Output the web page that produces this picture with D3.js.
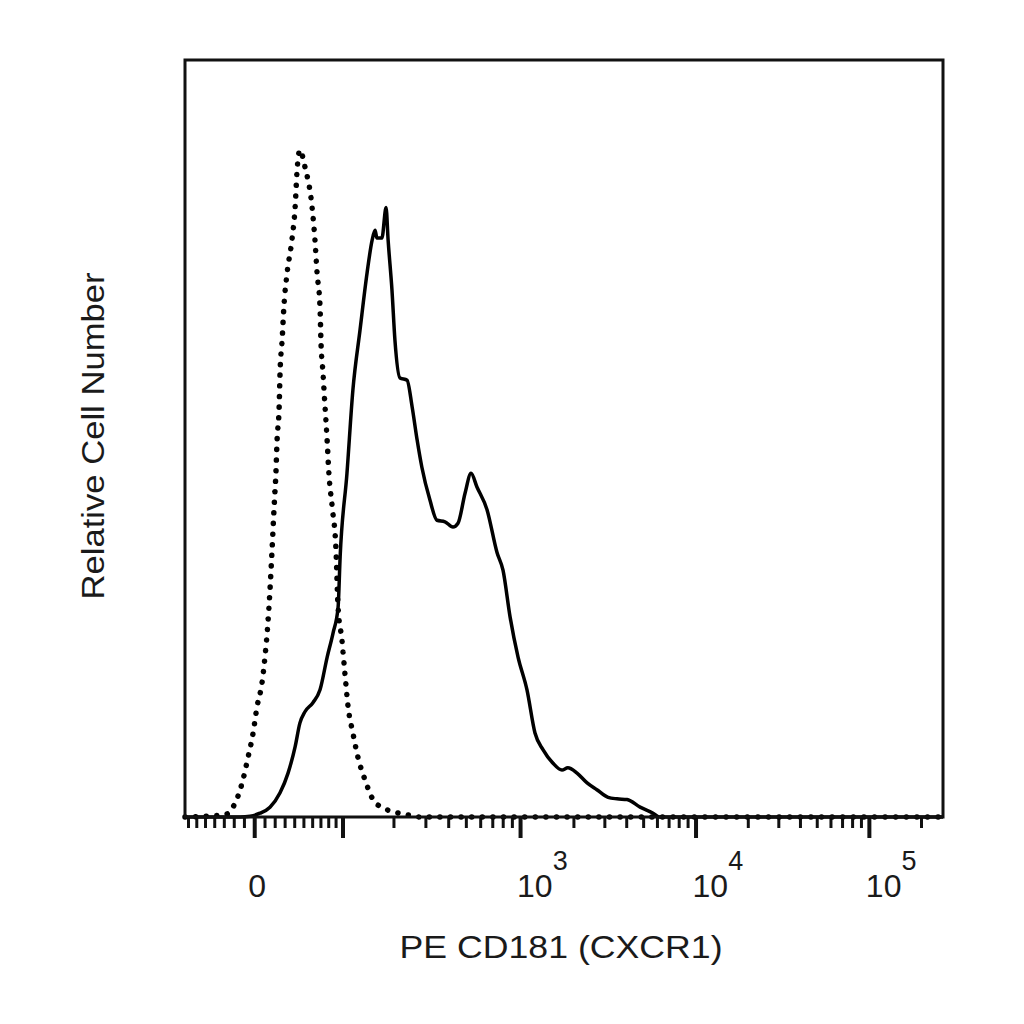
<!DOCTYPE html>
<html>
<head>
<meta charset="utf-8">
<script src="https://cdn.jsdelivr.net/npm/d3@7"></script>
<style>
  body { margin: 0; background: #fff; }
  svg { display: block; }
</style>
</head>
<body>
<div id="chart"></div>
<script>
// Histogram overlay: isotype (dotted) vs PE CD181 (solid), logicle x axis

// x in display channels (0-256 across the plot), y in % of full scale
const isoChannel = [0, 13.5, 16.2, 19.3, 21.3, 23.0, 24.3, 26.0, 27.0, 28.0, 28.7, 29.4, 30.1, 30.7, 31.1, 31.8, 32.1, 32.8, 33.4, 34.5, 36.1, 37.2, 37.8, 38.8, 40.5, 42.9, 43.9, 44.6, 45.6, 45.9, 46.6, 47.3, 48.0, 48.6, 49.7, 51.0, 51.7, 53.0, 54.0, 55.1, 56.7, 58.4, 60.8, 63.5, 66.9, 70.3, 75.0, 79.4, 256];
const isoCount = [0, 0.3, 1.3, 4.5, 7.9, 11.1, 14.5, 17.7, 21.1, 25.6, 30.0, 35.3, 41.0, 45.4, 49.8, 54.2, 58.7, 63.0, 67.4, 71.9, 76.2, 80.6, 85.1, 88.1, 85.9, 80.6, 76.2, 71.9, 67.4, 63.0, 58.7, 54.2, 49.8, 45.4, 41.0, 35.3, 27.7, 23.4, 19.0, 14.5, 11.1, 7.9, 4.9, 2.3, 1.2, 0.7, 0.3, 0, 0];

const cxcrChannel = [0, 18.6, 22.0, 25.3, 28.7, 32.1, 34.8, 37.2, 38.8, 40.5, 43.2, 45.6, 48.0, 50.0, 51.7, 52.4, 54.7, 56.7, 59.1, 61.5, 63.2, 64.2, 64.8, 66.5, 67.9, 68.6, 69.9, 70.9, 72.6, 75.0, 76.7, 78.4, 80.0, 82.7, 85.1, 87.8, 90.5, 92.2, 94.6, 96.6, 98.6, 102.0, 105.4, 107.4, 109.8, 112.5, 115.5, 118.2, 120.9, 124.3, 127.3, 129.3, 132.4, 135.8, 139.1, 142.9, 145.9, 149.3, 153.7, 158.1, 160.4, 256];
const cxcrCount = [0, 0, 0.1, 0.5, 1.3, 3.2, 5.8, 9.3, 12.4, 13.9, 15.1, 16.8, 21.1, 24.3, 27.7, 34.4, 45.4, 56.4, 64.3, 71.9, 76.2, 77.5, 76.5, 76.5, 80.5, 76.2, 69.6, 63.0, 58.0, 57.7, 54.2, 49.8, 46.2, 41.9, 39.2, 39.0, 38.3, 38.8, 42.8, 45.4, 43.6, 40.6, 34.9, 32.6, 26.4, 21.1, 16.8, 11.1, 8.9, 7.1, 6.2, 6.5, 5.8, 4.5, 3.6, 2.6, 2.4, 2.3, 1.3, 0.5, 0, 0];

// axis ticks in fluorescence units
const majorTicks = [0, 100, 1000, 10000, 100000];
const minorTicks = [-70, -60, -50, -40, -30, -20, -10, 10, 20, 30, 40, 50, 60, 70, 80, 90,
  200, 300, 400, 500, 600, 700, 800, 900,
  2000, 3000, 4000, 5000, 6000, 7000, 8000, 9000,
  20000, 30000, 40000, 50000, 60000, 70000, 80000, 90000, 200000];
const labelValues = [0, 1000, 10000, 100000];
const labelExps = ['', '3', '4', '5'];

const xTitle = 'PE CD181 (CXCR1)';
const yTitle = 'Relative Cell Number';

// logicle transform (Parks et al.), with A extra negative decades
const LN10 = Math.log(10);
const logT = 268000, logW = 0.25, logM = 4.23, logA = 0.15;
const lw = logW * LN10, lm = logM * LN10, la = logA * LN10;
const lp = (function() {
    let lo = 1, hi = 100;
    for (let i = 0; i < 80; i++) {
        const mid = (lo + hi) / 2;
        if (2 * mid * Math.log(mid) / (mid + 1) < lw) lo = mid; else hi = mid;
    }
    return (lo + hi) / 2;
})();

function logicleS(y) {
    if (y < lw) return -logicleS(2 * lw - y);
    const u = y - lw;
    return logT * Math.exp(-(lm - lw)) * (Math.exp(u) - lp * lp * Math.exp(-u / lp) + lp * lp - 1);
}

// value -> channel (0-256)
function toChannel(v) {
    let lo = -la, hi = lm;
    for (let i = 0; i < 80; i++) {
        const mid = (lo + hi) / 2;
        if (logicleS(mid) < v) lo = mid; else hi = mid;
    }
    return ((lo + hi) / 2 + la) / (lm + la) * 256;
}

const width = 1024, height = 1024;
const margin = { top: 60, right: 81, bottom: 207, left: 185 };

const svg = d3.select('#chart')
    .append('svg')
    .attr('width', width)
    .attr('height', height);

const xScale = d3.scaleLinear()
    .domain([0, 256])
    .range([margin.left, width - margin.right]);

const yScale = d3.scaleLinear()
    .domain([0, 100])
    .range([height - margin.bottom, margin.top]);

const baseY = height - margin.bottom;

// minor ticks
svg.append('g')
    .attr('transform', `translate(0,${baseY})`)
    .call(d3.axisBottom(xScale).tickValues(minorTicks.map(toChannel)).tickSize(11).tickFormat(''))
    .call(g => g.select('.domain').remove())
    .call(g => g.selectAll('line').attr('stroke', '#111').attr('stroke-width', 3));

// major ticks
svg.append('g')
    .attr('transform', `translate(0,${baseY})`)
    .call(d3.axisBottom(xScale).tickValues(majorTicks.map(toChannel)).tickSize(21).tickFormat(''))
    .call(g => g.select('.domain').remove())
    .call(g => g.selectAll('line').attr('stroke', '#111').attr('stroke-width', 4));

// tick labels
const labels = svg.append('g')
    .style('font-family', '"Liberation Sans", Arial, sans-serif')
    .attr('fill', '#1a1a1a');

labelValues.forEach((v, i) => {
    const x = xScale(toChannel(v));
    if (labelExps[i] === '') {
        labels.append('text')
            .attr('x', x + 3)
            .attr('y', 897)
            .attr('text-anchor', 'middle')
            .style('font-size', '32px')
            .text(String(v));
    } else {
        const t = labels.append('text')
            .attr('x', x - 3)
            .attr('y', 897)
            .style('font-size', '32px');
        t.append('tspan').text('10');
        t.append('tspan')
            .attr('dy', -27)
            .style('font-size', '27px')
            .text(labelExps[i]);
    }
});

// histogram lines
const line = d3.line()
    .x(d => xScale(d[0]))
    .y(d => yScale(d[1]))
    .curve(d3.curveMonotoneX);

svg.append('path')
    .datum(isoChannel.map((c, i) => [c, isoCount[i]]))
    .attr('d', line)
    .attr('fill', 'none')
    .attr('stroke', '#000')
    .attr('stroke-width', 5.5)
    .attr('stroke-linecap', 'round')
    .attr('stroke-dasharray', '0.1 10.5');

svg.append('path')
    .datum(cxcrChannel.map((c, i) => [c, cxcrCount[i]]))
    .attr('d', line)
    .attr('fill', 'none')
    .attr('stroke', '#000')
    .attr('stroke-width', 3.5)
    .attr('stroke-linejoin', 'round');

// plot frame
svg.append('rect')
    .attr('x', margin.left)
    .attr('y', margin.top)
    .attr('width', width - margin.left - margin.right)
    .attr('height', height - margin.top - margin.bottom)
    .attr('fill', 'none')
    .attr('stroke', '#111')
    .attr('stroke-width', 3);

// axis titles
svg.append('text')
    .attr('x', 561)
    .attr('y', 958)
    .attr('text-anchor', 'middle')
    .attr('textLength', 323)
    .attr('lengthAdjust', 'spacingAndGlyphs')
    .style('font-family', '"Liberation Sans", Arial, sans-serif')
    .style('font-size', '32px')
    .attr('fill', '#1a1a1a')
    .text(xTitle);

svg.append('text')
    .attr('transform', 'translate(104,436) rotate(-90)')
    .attr('text-anchor', 'middle')
    .attr('textLength', 327)
    .attr('lengthAdjust', 'spacingAndGlyphs')
    .style('font-family', '"Liberation Sans", Arial, sans-serif')
    .style('font-size', '32px')
    .attr('fill', '#1a1a1a')
    .text(yTitle);
</script>
</body>
</html>
